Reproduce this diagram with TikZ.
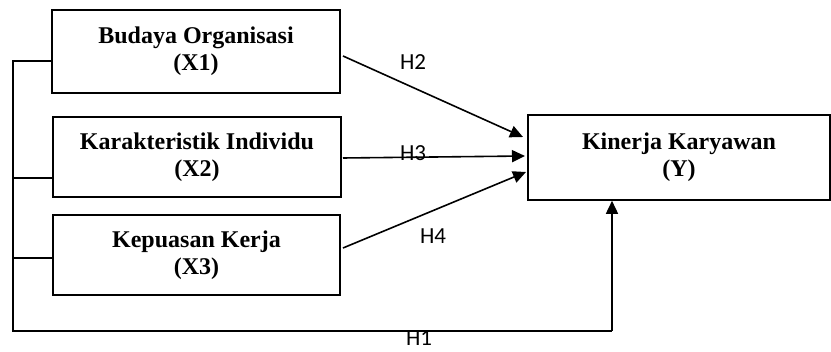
\documentclass[tikz,border=0pt]{standalone}
\usepackage{fontspec}
\setmainfont{Liberation Serif}
\newfontfamily\hfont{Carlito}
\usetikzlibrary{arrows.meta}
\begin{document}
\begin{tikzpicture}[x=1pt,y=-1pt,line width=1.6pt,
  varbox/.style={draw,rectangle,align=center,font=\fontsize{24}{27}\selectfont\bfseries,inner sep=0pt},
  hlab/.style={font=\hfont\fontsize{23}{25}\selectfont,inner sep=0pt},
  arr/.style={-{Triangle[length=13pt,width=12pt]}}]
\useasboundingbox (0,0) rectangle (831,352);
\node[varbox,minimum width=288pt,minimum height=83pt] (X1) at (196,51.5) {Budaya Organisasi\\(X1)};
\node[varbox,minimum width=288pt,minimum height=80pt] (X2) at (197,157) {Karakteristik Individu\\(X2)};
\node[varbox,minimum width=287pt,minimum height=80pt] (X3) at (196.5,255) {Kepuasan Kerja\\(X3)};
\node[varbox,minimum width=302pt,minimum height=85pt] (Y) at (679,157.5) {Kinerja Karyawan\\(Y)};
% left bus
\coordinate (b1) at (13,61);
\coordinate (b2) at (13,178);
\coordinate (b3) at (13,258);
\coordinate (b0) at (13,331);
\coordinate (c1) at (612,331);
\draw (X1.west |- b1) -- (b1) -- (b0) -- (c1);
\draw (b2) -- (X2.west |- b2);
\draw (b3) -- (X3.west |- b3);
\draw[arr] (c1) -- (Y.south -| c1);
% direct arrows
\coordinate (s2) at (343,56);
\coordinate (t2) at (523,137);
\coordinate (s3) at (343,158);
\coordinate (t3) at (525,156);
\coordinate (s4) at (343,248);
\coordinate (t4) at (526,172);
\draw[arr] (s2) -- (t2);
\draw[arr] (s3) -- (t3);
\draw[arr] (s4) -- (t4);
% labels
\node[hlab] (h2) at (413,62) {H2};
\node[hlab] (h3) at (413,153) {H3};
\node[hlab] (h4) at (433,236) {H4};
\node[hlab] (h1) at (419,338) {H1};
\end{tikzpicture}
\end{document}
